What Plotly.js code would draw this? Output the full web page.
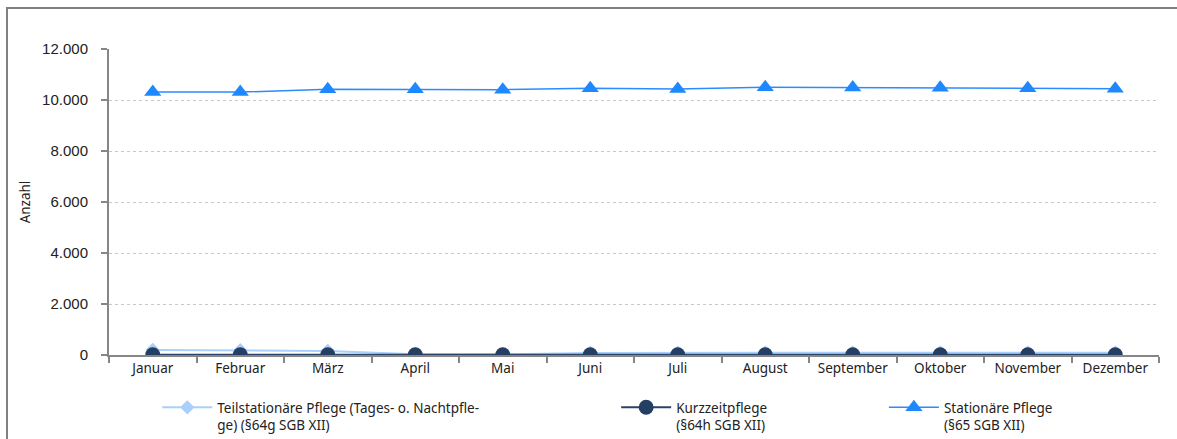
<!DOCTYPE html>
<html>
<head>
<meta charset="utf-8">
<script src="https://cdn.plot.ly/plotly-3.0.1.min.js"></script>
<style>
html,body{margin:0;padding:0;background:#fff;width:1177px;height:439px;overflow:hidden;}
#chart{width:1177px;height:439px;position:absolute;left:0;top:0;}
</style>
</head>
<body>
<div id="chart"></div>
<script>
const months = ["Januar","Februar","März","April","Mai","Juni","Juli","August","September","Oktober","November","Dezember"];
const teilstationaer = [200,190,160,30,30,80,90,90,90,90,90,90];
const kurzzeit = [10,10,10,10,10,10,10,10,10,10,10,10];
const stationaer = [10310,10310,10420,10420,10405,10460,10430,10500,10490,10485,10465,10445];
const yTicks = [0,2000,4000,6000,8000,10000,12000];

const names = [
  "Teilstationäre Pflege (Tages- o. Nachtpfle-<br>ge) (§64g SGB XII)",
  "Kurzzeitpflege<br>(§64h SGB XII)",
  "Stationäre Pflege<br>(§65 SGB XII)"
];

const traces = [
  {x: months, y: teilstationaer, name: names[0], type: 'scatter', mode: 'lines+markers',
   line: {color: '#a9cffd', width: 2}, marker: {symbol: 'diamond', size: 11, color: '#a9cffd'}, legend: 'legend'},
  {x: months, y: kurzzeit, name: names[1], type: 'scatter', mode: 'lines+markers',
   line: {color: '#2a4468', width: 2}, marker: {symbol: 'circle', size: 15, color: '#243f63'}, legend: 'legend2'},
  {x: months, y: stationaer, name: names[2], type: 'scatter', mode: 'lines+markers',
   line: {color: '#2a8cff', width: 1.5}, marker: {symbol: 'triangle-up', size: 15, color: '#1e88ff'}, legend: 'legend3'}
];

const legFont = {family: 'Noto Sans, sans-serif', size: 13.5, color: '#222'};
const legBase = {orientation: 'h', yref: 'container', yanchor: 'top', y: 0.107, xanchor: 'left', valign: 'top',
  itemwidth: 50, font: legFont, bgcolor: 'rgba(0,0,0,0)'};

const W = 1177, H = 439, ML = 109, MR = 18, MT = 49, MB = 84;
const pw = W - ML - MR, ph = H - MT - MB;
const fx = px => (px - ML) / pw;
const fy = py => 1 - (py - MT) / ph;

const layout = {
  width: W, height: H,
  margin: {l: ML, r: MR, t: MT, b: MB},
  paper_bgcolor: '#fff', plot_bgcolor: '#fff',
  separators: ',.',
  showlegend: true,
  xaxis: {
    type: 'category', range: [-0.5, 11.5], tickson: 'boundaries', automargin: false,
    showline: true, linecolor: '#868686', linewidth: 2,
    ticks: 'outside', ticklen: 6, tickcolor: '#868686', tickwidth: 2,
    showgrid: false, zeroline: false,
    tickfont: {family: 'Noto Sans, sans-serif', size: 13.5, color: '#222'}
  },
  yaxis: {
    range: [0, 12000], tickvals: yTicks, tickformat: ',d', automargin: false,
    showline: true, linecolor: '#868686', linewidth: 2,
    ticks: 'outside', ticklen: 6, tickcolor: '#868686', tickwidth: 2, ticklabelstandoff: 10,
    showgrid: true, gridcolor: '#c8c8c8', gridwidth: 1, griddash: 'dot',
    zeroline: false,
    tickfont: {family: 'Liberation Sans, Arial, sans-serif', size: 15, color: '#222'},
    title: {text: 'Anzahl', font: {family: 'Noto Sans, sans-serif', size: 13.5, color: '#222'}, standoff: 8}
  },
  shapes: [
    {type: 'line', xref: 'paper', yref: 'paper', x0: fx(7), x1: fx(7), y0: fy(8), y1: fy(450), line: {color: '#808080', width: 2}},
    {type: 'line', xref: 'paper', yref: 'paper', x0: fx(6), x1: fx(1200), y0: fy(8), y1: fy(8), line: {color: '#808080', width: 2}}
  ],
  legend: Object.assign({}, legBase, {x: 0.046}),
  legend2: Object.assign({}, legBase, {x: 0.483}),
  legend3: Object.assign({}, legBase, {x: 0.738})
};

Plotly.newPlot('chart', traces, layout, {displayModeBar: false, staticPlot: true});
</script>
</body>
</html>
